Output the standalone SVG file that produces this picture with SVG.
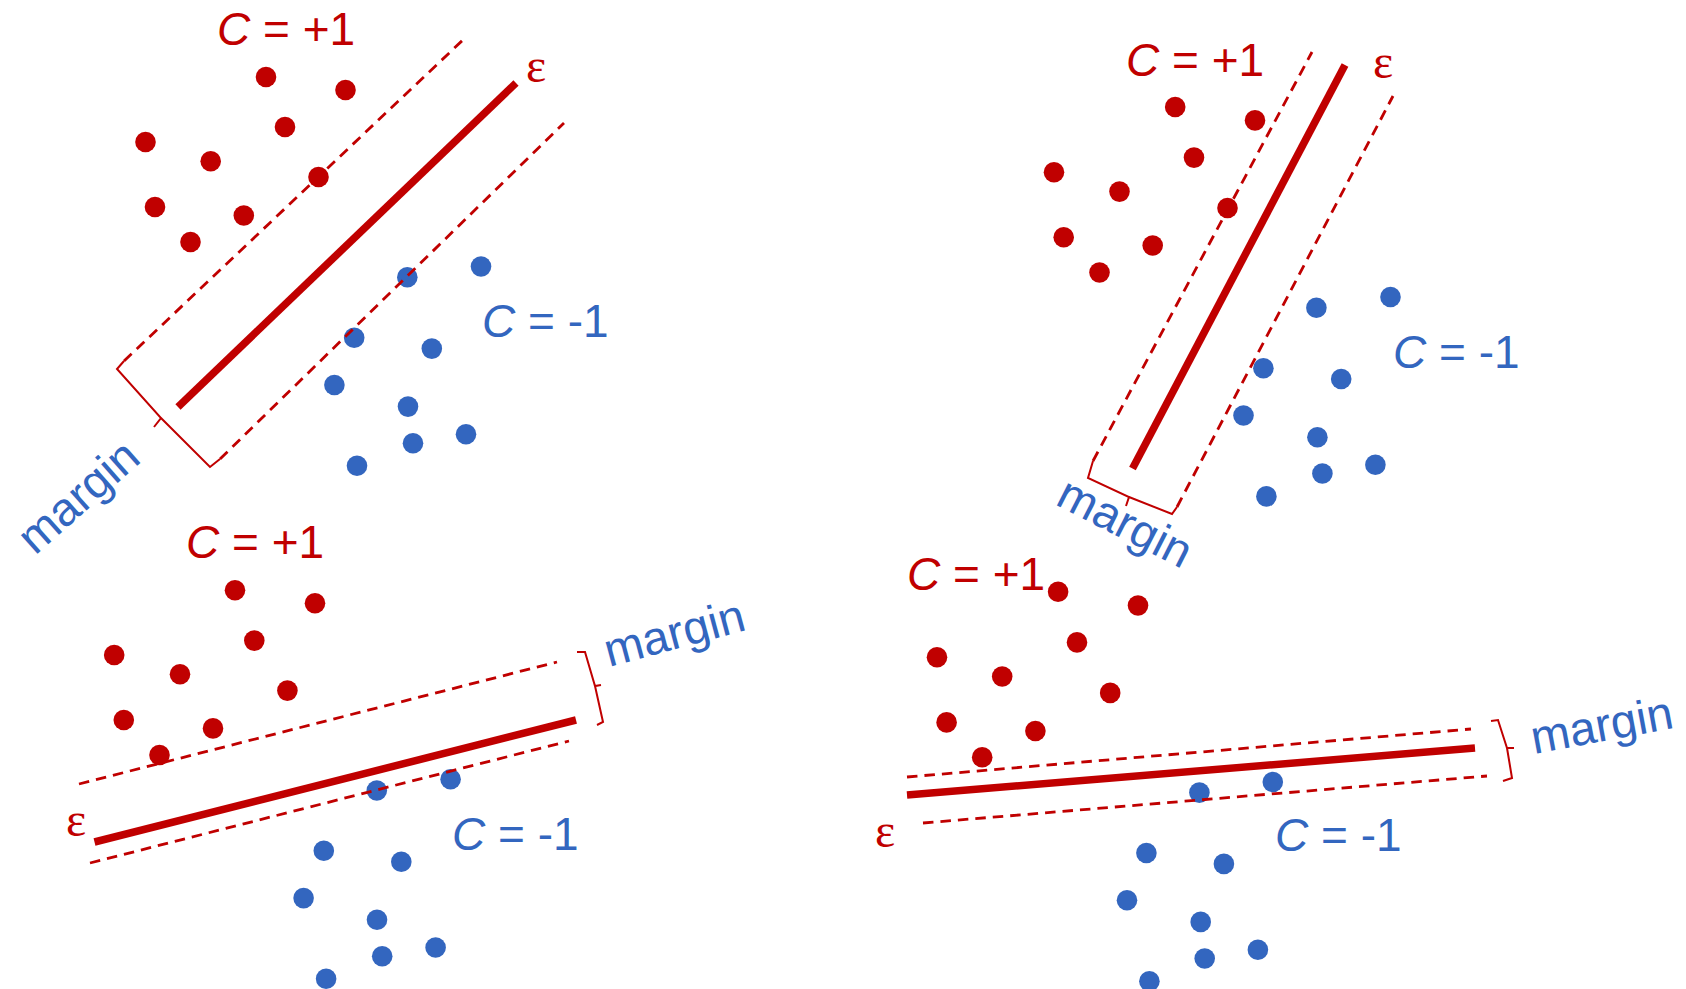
<svg xmlns="http://www.w3.org/2000/svg" width="1686" height="989" viewBox="0 0 1686 989">
<style>
.r{fill:#C00000}
.b{fill:#3366BF}
.sol{stroke:#C00000;stroke-width:7.5;fill:none}
.dash{stroke:#C00000;stroke-width:2.8;stroke-dasharray:10.5 7;fill:none}
.brk{stroke:#C00000;stroke-width:2;fill:none;stroke-linejoin:miter}
.t{font-family:"Liberation Sans",Arial,sans-serif;font-size:46px}
.m{font-family:"Liberation Sans",Arial,sans-serif;font-size:47px;fill:#3366BF}
.tr{fill:#C00000}
.tb{fill:#3366BF}
.eps{font-family:"Liberation Serif","Times New Roman",serif;font-size:48px;fill:#C00000}
.it{font-style:italic}
</style>
<rect width="1686" height="989" fill="#FFFFFF"/>

<!-- Panel 1: top-left -->
<g id="panel-tl">
  <g id="tl-red-points" class="r">
    <circle cx="266" cy="77" r="10.3"/><circle cx="345.5" cy="90" r="10.3"/><circle cx="285" cy="127" r="10.3"/>
    <circle cx="145.5" cy="142" r="10.3"/><circle cx="210.7" cy="161.3" r="10.3"/><circle cx="318.5" cy="177" r="10.3"/>
    <circle cx="155" cy="207" r="10.3"/><circle cx="243.8" cy="215.5" r="10.3"/><circle cx="190.5" cy="242" r="10.3"/>
  </g>
  <g id="tl-blue-points" class="b">
    <circle cx="481" cy="266.5" r="10.3"/><circle cx="407.3" cy="277.3" r="10.3"/><circle cx="354.2" cy="337.7" r="10.3"/>
    <circle cx="431.8" cy="348.6" r="10.3"/><circle cx="334.4" cy="385" r="10.3"/><circle cx="408" cy="406.6" r="10.3"/>
    <circle cx="466" cy="434.2" r="10.3"/><circle cx="413" cy="443.2" r="10.3"/><circle cx="357" cy="465.8" r="10.3"/>
  </g>
  <g id="tl-connectors">
    <line class="dash" x1="124" y1="361" x2="465" y2="38"/>
    <line class="dash" x1="220" y1="459" x2="564" y2="123"/>
    <line class="sol" x1="178" y1="407" x2="516" y2="83"/>
    <path class="brk" d="M124,361 L117,369 L161,418 L154,427 M161,418 L210,467 L220,459"/>
  </g>
  <text class="t tr" x="217" y="45"><tspan class="it">C</tspan> = +1</text>
  <text class="eps" x="526" y="82">ε</text>
  <text class="t tb" x="482" y="337"><tspan class="it">C</tspan> = -1</text>
  <text class="m" transform="translate(35,556) rotate(-41.5)">margin</text>
</g>

<!-- Panel 2: top-right -->
<g id="panel-tr">
  <g id="tr-red-points" class="r">
    <circle cx="1175.2" cy="107" r="10.3"/><circle cx="1255" cy="120.4" r="10.3"/><circle cx="1194" cy="157.6" r="10.3"/>
    <circle cx="1054" cy="172.3" r="10.3"/><circle cx="1119.5" cy="191.6" r="10.3"/><circle cx="1227.5" cy="208" r="10.3"/>
    <circle cx="1063.7" cy="237.2" r="10.3"/><circle cx="1152.7" cy="245.5" r="10.3"/><circle cx="1099.5" cy="272.5" r="10.3"/>
  </g>
  <g id="tr-blue-points" class="b">
    <circle cx="1390.5" cy="297" r="10.3"/><circle cx="1316.4" cy="307.8" r="10.3"/><circle cx="1263.4" cy="368.2" r="10.3"/>
    <circle cx="1341.2" cy="379" r="10.3"/><circle cx="1243.5" cy="415.5" r="10.3"/><circle cx="1317.4" cy="437.2" r="10.3"/>
    <circle cx="1375.4" cy="464.8" r="10.3"/><circle cx="1322.4" cy="473.5" r="10.3"/><circle cx="1266.4" cy="496.4" r="10.3"/>
  </g>
  <g id="tr-connectors">
    <line class="dash" x1="1093" y1="461" x2="1312" y2="52"/>
    <line class="dash" x1="1177" y1="507" x2="1393" y2="96"/>
    <line class="sol" x1="1132.5" y1="468.5" x2="1345" y2="65"/>
    <path class="brk" d="M1093,461 L1088,478 L1129,497 L1126,506 M1129,497 L1172,514 L1177,507"/>
  </g>
  <text class="t tr" x="1126" y="76"><tspan class="it">C</tspan> = +1</text>
  <text class="eps" x="1373" y="78">ε</text>
  <text class="t tb" x="1393" y="368"><tspan class="it">C</tspan> = -1</text>
  <text class="m" transform="translate(1054,504) rotate(27)">margin</text>
</g>

<!-- Panel 3: bottom-left -->
<g id="panel-bl">
  <g id="bl-red-points" class="r">
    <circle cx="235" cy="590.2" r="10.3"/><circle cx="315" cy="603.3" r="10.3"/><circle cx="254.3" cy="640.6" r="10.3"/>
    <circle cx="114.2" cy="655" r="10.3"/><circle cx="180" cy="674.3" r="10.3"/><circle cx="287.4" cy="690.6" r="10.3"/>
    <circle cx="123.8" cy="720" r="10.3"/><circle cx="213" cy="728.4" r="10.3"/><circle cx="159.5" cy="755" r="10.3"/>
  </g>
  <g id="bl-blue-points" class="b">
    <circle cx="450.6" cy="779.3" r="10.3"/><circle cx="376.8" cy="790.5" r="10.3"/><circle cx="323.8" cy="850.8" r="10.3"/>
    <circle cx="401.3" cy="861.8" r="10.3"/><circle cx="303.6" cy="898.1" r="10.3"/><circle cx="377" cy="919.7" r="10.3"/>
    <circle cx="435.6" cy="947.5" r="10.3"/><circle cx="382.2" cy="956.3" r="10.3"/><circle cx="326.1" cy="978.7" r="10.3"/>
  </g>
  <g id="bl-connectors">
    <line class="dash" x1="79" y1="784" x2="557" y2="662"/>
    <line class="dash" x1="90" y1="863" x2="569" y2="741"/>
    <line class="sol" x1="94.5" y1="842" x2="576" y2="720"/>
    <path class="brk" d="M577,652 L585,652 L595,686 L601,685 M595,686 L603,722 L597,725"/>
  </g>
  <text class="t tr" x="186" y="558"><tspan class="it">C</tspan> = +1</text>
  <text class="eps" x="66" y="836">ε</text>
  <text class="t tb" x="452" y="850"><tspan class="it">C</tspan> = -1</text>
  <text class="m" transform="translate(609,667) rotate(-15)">margin</text>
</g>

<!-- Panel 4: bottom-right -->
<g id="panel-br">
  <g id="br-red-points" class="r">
    <circle cx="1058.1" cy="591.7" r="10.3"/><circle cx="1138" cy="605.5" r="10.3"/><circle cx="1077" cy="642.4" r="10.3"/>
    <circle cx="937" cy="657.2" r="10.3"/><circle cx="1002.2" cy="676.5" r="10.3"/><circle cx="1110.2" cy="692.9" r="10.3"/>
    <circle cx="946.6" cy="722.4" r="10.3"/><circle cx="1035.4" cy="731" r="10.3"/><circle cx="982.2" cy="757.2" r="10.3"/>
  </g>
  <g id="br-blue-points" class="b">
    <circle cx="1272.8" cy="782" r="10.3"/><circle cx="1199.4" cy="792.6" r="10.3"/><circle cx="1146.4" cy="853" r="10.3"/>
    <circle cx="1223.9" cy="863.9" r="10.3"/><circle cx="1127" cy="900.3" r="10.3"/><circle cx="1200.7" cy="921.9" r="10.3"/>
    <circle cx="1257.9" cy="949.7" r="10.3"/><circle cx="1204.7" cy="958.5" r="10.3"/><circle cx="1149.4" cy="981.2" r="10.3"/>
  </g>
  <g id="br-connectors">
    <line class="dash" x1="907" y1="777" x2="1471" y2="729"/>
    <line class="dash" x1="923" y1="823" x2="1487" y2="776"/>
    <line class="sol" x1="907" y1="795" x2="1475" y2="748"/>
    <path class="brk" d="M1491,721 L1498,720 L1507,748 L1514,748 M1507,748 L1512,778 L1503,781"/>
  </g>
  <text class="t tr" x="907" y="590"><tspan class="it">C</tspan> = +1</text>
  <text class="eps" x="875" y="847">ε</text>
  <text class="t tb" x="1275" y="851"><tspan class="it">C</tspan> = -1</text>
  <text class="m" transform="translate(1534,754) rotate(-10.5)">margin</text>
</g>
</svg>
